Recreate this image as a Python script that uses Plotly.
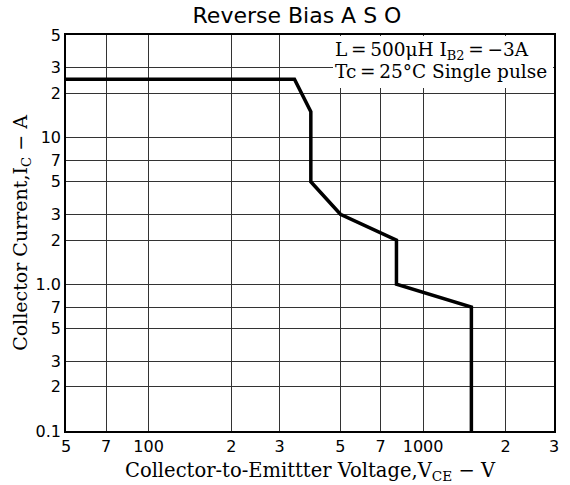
import math
import plotly.graph_objects as go

# Curve data (V_CE in volts, I_C in amps)
vce = [50, 340, 390, 390, 500, 800, 800, 1500, 1500]
ic = [25, 25, 15, 5, 3, 2, 1.0, 0.7, 0.1]

x_tickvals = [50, 70, 100, 200, 300, 500, 700, 1000, 2000, 3000]
x_ticktext = ["5", "7", "100", "2", "3", "5", "7", "1000", "2", "3"]
y_tickvals = [0.1, 0.2, 0.3, 0.5, 0.7, 1, 2, 3, 5, 7, 10, 20, 30, 50]
y_ticktext = ["0.1", "2", "3", "5", "7", "1.0", "2", "3", "5", "7", "10", "2", "3", "5"]

W, H = 570, 485
L, R, T, B = 66, 16, 35, 54
pw, ph = W - L - R, H - T - B

def px(xp):
    return (xp - L) / pw

def py(yp):
    return (H - B - yp) / ph

fig = go.Figure()
fig.add_trace(go.Scatter(x=vce, y=ic, mode="lines",
                         line=dict(color="black", width=3.5), showlegend=False,
                         hoverinfo="skip"))

tickfont = dict(family="DejaVu Sans", size=16, color="black")
fig.update_xaxes(type="log", range=[math.log10(50), math.log10(3000)],
                 tickvals=x_tickvals, ticktext=x_ticktext, tickfont=tickfont,
                 showgrid=True, gridcolor="#333", gridwidth=1,
                 showline=True, linecolor="black", linewidth=1.5, mirror=True,
                 ticks="", zeroline=False, automargin=False,
                 title=dict(text="Collector-to-Emittter Voltage,V<sub>CE</sub> − V",
                            font=dict(family="DejaVu Serif", size=19.5, color="black"),
                            standoff=8))
fig.update_yaxes(type="log", range=[math.log10(0.1), math.log10(50)],
                 tickvals=y_tickvals, ticktext=y_ticktext, tickfont=tickfont,
                 showgrid=True, gridcolor="#333", gridwidth=1,
                 showline=True, linecolor="black", linewidth=1.5, mirror=True,
                 ticks="", zeroline=False, automargin=False,
                 title=dict(text="Collector Current,I<sub>C</sub> − A",
                            font=dict(family="DejaVu Serif", size=19, color="black"),
                            standoff=3))

# white box behind the condition text
fig.add_shape(type="rect", xref="paper", yref="paper",
              x0=px(333), x1=px(553), y0=py(88), y1=py(36),
              fillcolor="white", line=dict(width=0), layer="above")

notefont = dict(family="DejaVu Serif", size=18.5, color="black")
fig.add_annotation(xref="paper", yref="paper", x=px(333), y=py(51),
                   xanchor="left", yanchor="middle",
                   text="L\u2009=\u2009500μH I<sub>B2</sub>\u2009=\u2009−3A",
                   showarrow=False, font=notefont)
fig.add_annotation(xref="paper", yref="paper", x=px(333), y=py(71),
                   xanchor="left", yanchor="middle",
                   text="Tc\u2009=\u200925°C Single pulse", showarrow=False, font=notefont)

fig.update_layout(
    width=W, height=H,
    margin=dict(l=L, r=R, t=T, b=B),
    paper_bgcolor="white", plot_bgcolor="white",
    hovermode=False,
    title=dict(text="Reverse Bias A S O", x=297 / W, xanchor="center",
               y=1 - 15 / H, yanchor="middle",
               font=dict(family="DejaVu Sans", size=22, color="black")),
)

fig.write_html("out.html", config={"displayModeBar": False},
               post_script="document.body.style.margin='0';")
